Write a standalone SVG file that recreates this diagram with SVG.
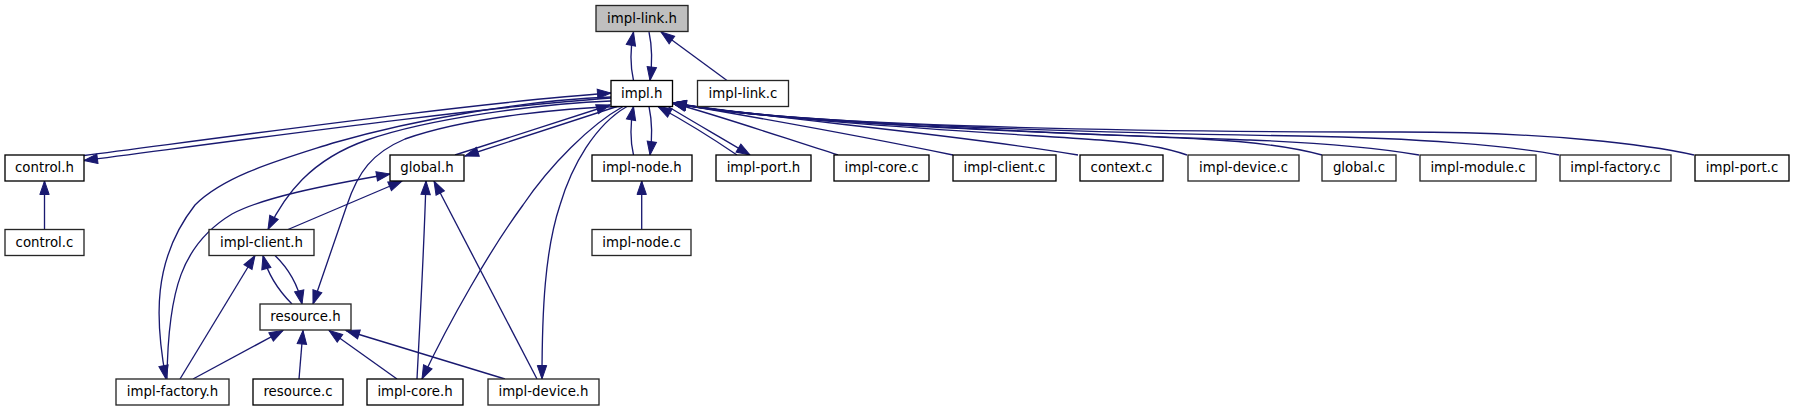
<svg xmlns="http://www.w3.org/2000/svg" width="1794" height="411" viewBox="0 0 1794 411">
<style>
.node rect{fill:#ffffff;stroke:#000000;stroke-width:1.33}
.node.dim rect{stroke:#262626}
.node.root rect{fill:#bfbfbf;stroke:#262626}
.node text{font-family:"DejaVu Sans","Liberation Sans",sans-serif;font-size:13.33px;text-anchor:middle;fill:#000000}
.edges path{fill:none;stroke:#191970;stroke-width:1.33;marker-start:url(#ah)}
</style>
<defs>
<marker id="ah" markerUnits="userSpaceOnUse" markerWidth="15" markerHeight="11" viewBox="0 0 15 11" refX="14" refY="5.5" orient="auto-start-reverse" overflow="visible">
<path d="M0.5,0.8 L14,5.5 L0.5,10.2 Z" fill="#191970" stroke="#191970" stroke-width="1"/>
</marker>
</defs>
<rect width="1794" height="411" fill="#ffffff"/>
<g class="edges" id="connectors">
<path d="M633.5,32 C630,50 630,65 633.5,80.5"/>
<path d="M650,80.5 C652.5,62 652.5,48 649,32"/>
<path d="M661,32 L727,80.5"/>
<path d="M611,93 C480,102 220,138 84,155.5"/>
<path d="M84,160.5 C220,143 480,107 611,98"/>
<path d="M465,156 L617,106.5"/>
<path d="M610,105 L455,155"/>
<path d="M633.5,106.5 C630,125 630,140 633.5,155"/>
<path d="M650,155 C652.5,137 652.5,123 649,106.5"/>
<path d="M641.7,181 L641.7,229.5"/>
<path d="M44.5,181 L44.5,229.5"/>
<path d="M658,106.5 C690,124 715,140 737,155"/>
<path d="M750,155 C720,137 690,120 668,106.5"/>
<path d="M672.5,103 C730,119 790,140 838,155"/>
<path d="M672.5,103 C760,118 880,140 953,155"/>
<path d="M672.5,103 C780,120 950,133 1078,155"/>
<path d="M672.5,103 C780,122 1000,133 1100,140 C1140,143 1170,149 1187,155"/>
<path d="M672.5,103 C780,123 1050,132 1200,139 C1260,142 1300,149 1322,155"/>
<path d="M672.5,103 C780,124 1050,133 1250,140 C1330,143 1390,150 1419,155"/>
<path d="M672.5,103 C780,124 1100,133 1300,136 C1420,138 1510,146 1559,155"/>
<path d="M672.5,103 C780,125 1100,132 1400,132 C1550,132 1650,145 1694,155"/>
<path d="M268,229.5 C285,195 310,160 367,140 C430,118 540,104 611,101"/>
<path d="M313,304 L347,205 C358,172 372,153 405,139 C470,116 570,108 620,106.5"/>
<path d="M166,379 C155,320 152,260 195,205 C225,175 280,160 333,143 C420,118 530,100 611,97"/>
<path d="M390,174 C320,186 262,198 232,214 C182,244 168,290 167,379"/>
<path d="M402,181 L288,229.5"/>
<path d="M426,181 C424,250 420,320 417,379"/>
<path d="M434,181 L537,379"/>
<path d="M422,379 C450,320 490,250 523,205 C550,165 590,125 623,106.5"/>
<path d="M542,379 C542,310 545,250 560,205 C572,165 595,125 627,106.5"/>
<path d="M263,255.5 C268,275 280,292 292,304"/>
<path d="M302,304 C298,285 290,270 275,255.5"/>
<path d="M255,255.5 L180,379"/>
<path d="M283,330.5 L193,379"/>
<path d="M303,330.5 L299,379"/>
<path d="M329,330.5 L397,379"/>
<path d="M346,330.5 L505,379"/>
</g>
<g class="node root" id="n-impl-link-h"><rect x="596" y="5.5" width="92" height="26"/><text x="642" y="22.5">impl-link.h</text></g>
<g class="node" id="n-impl-h"><rect x="611" y="80.5" width="61.5" height="26"/><text x="641.75" y="97.5">impl.h</text></g>
<g class="node dim" id="n-impl-link-c"><rect x="697.5" y="80.5" width="91" height="26"/><text x="743" y="97.5">impl-link.c</text></g>
<g class="node" id="n-control-h"><rect x="5" y="155" width="79" height="26"/><text x="44.5" y="172">control.h</text></g>
<g class="node" id="n-global-h"><rect x="390" y="155" width="74" height="26"/><text x="427" y="172">global.h</text></g>
<g class="node" id="n-impl-node-h"><rect x="592" y="155" width="100" height="26"/><text x="642" y="172">impl-node.h</text></g>
<g class="node" id="n-impl-port-h"><rect x="716" y="155" width="95" height="26"/><text x="763.5" y="172">impl-port.h</text></g>
<g class="node" id="n-impl-core-c"><rect x="834" y="155" width="95" height="26"/><text x="881.5" y="172">impl-core.c</text></g>
<g class="node" id="n-impl-client-c"><rect x="953" y="155" width="103" height="26"/><text x="1004.5" y="172">impl-client.c</text></g>
<g class="node" id="n-context-c"><rect x="1080" y="155" width="83" height="26"/><text x="1121.5" y="172">context.c</text></g>
<g class="node dim" id="n-impl-device-c"><rect x="1188" y="155" width="111" height="26"/><text x="1243.5" y="172">impl-device.c</text></g>
<g class="node dim" id="n-global-c"><rect x="1322" y="155" width="74" height="26"/><text x="1359" y="172">global.c</text></g>
<g class="node dim" id="n-impl-module-c"><rect x="1420" y="155" width="116" height="26"/><text x="1478" y="172">impl-module.c</text></g>
<g class="node dim" id="n-impl-factory-c"><rect x="1560" y="155" width="111" height="26"/><text x="1615.5" y="172">impl-factory.c</text></g>
<g class="node" id="n-impl-port-c"><rect x="1695" y="155" width="94" height="26"/><text x="1742" y="172">impl-port.c</text></g>
<g class="node dim" id="n-control-c"><rect x="5" y="229.5" width="79" height="26"/><text x="44.5" y="246.5">control.c</text></g>
<g class="node dim" id="n-impl-client-h"><rect x="209" y="229.5" width="105" height="26"/><text x="261.5" y="246.5">impl-client.h</text></g>
<g class="node dim" id="n-impl-node-c"><rect x="592" y="229.5" width="99" height="26"/><text x="641.5" y="246.5">impl-node.c</text></g>
<g class="node dim" id="n-resource-h"><rect x="260" y="304" width="91" height="26"/><text x="305.5" y="321">resource.h</text></g>
<g class="node dim" id="n-impl-factory-h"><rect x="116" y="379" width="113" height="26"/><text x="172.5" y="396">impl-factory.h</text></g>
<g class="node" id="n-resource-c"><rect x="253" y="379" width="90" height="26"/><text x="298" y="396">resource.c</text></g>
<g class="node" id="n-impl-core-h"><rect x="367" y="379" width="96" height="26"/><text x="415" y="396">impl-core.h</text></g>
<g class="node dim" id="n-impl-device-h"><rect x="488" y="379" width="111" height="26"/><text x="543.5" y="396">impl-device.h</text></g>
</svg>
